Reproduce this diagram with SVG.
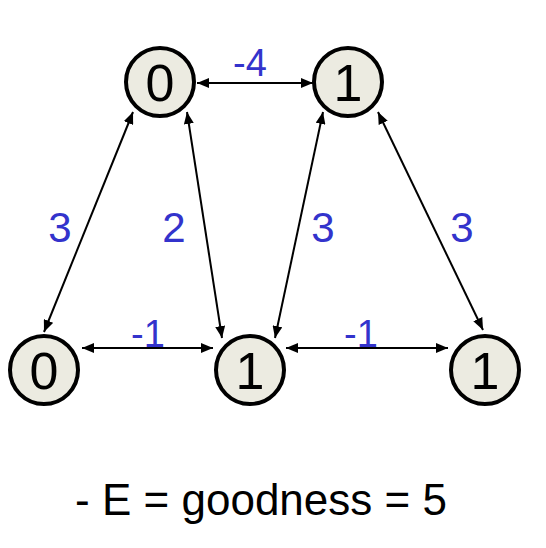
<svg xmlns="http://www.w3.org/2000/svg" width="546" height="548" viewBox="0 0 546 548">
<defs>
<marker id="ah" viewBox="0 0 12 10" refX="12" refY="5" markerWidth="12" markerHeight="10" markerUnits="userSpaceOnUse" orient="auto-start-reverse">
<path d="M0,0 L12,5 L0,10 Z" fill="#000"/>
</marker>
</defs>
<style>
.node circle{fill:#ECEBE1;stroke:#000;stroke-width:4}
.node text{font-family:"Liberation Sans",Arial,sans-serif;font-size:52px;fill:#000;text-anchor:middle}
.edge line{stroke:#000;stroke-width:2;marker-start:url(#ah);marker-end:url(#ah)}
.lbl{font-family:"Liberation Sans",Arial,sans-serif;fill:#3333CC;text-anchor:middle}
</style>
<rect width="546" height="548" fill="#fff"/>
<g id="connectors" class="edge">
<line x1="197" y1="83" x2="313" y2="83"/>
<line x1="82" y1="348" x2="213" y2="348"/>
<line x1="286" y1="348" x2="448" y2="348"/>
<line x1="133" y1="112" x2="44" y2="332"/>
<line x1="187" y1="112" x2="222" y2="338"/>
<line x1="323" y1="112" x2="275" y2="338"/>
<line x1="378" y1="112" x2="483" y2="330"/>
</g>
<g id="edge-labels">
<text class="lbl" x="250" y="76" font-size="38">-4</text>
<text class="lbl" x="148" y="347" font-size="38">-1</text>
<text class="lbl" x="361" y="347" font-size="38">-1</text>
<text class="lbl" x="60" y="242" font-size="42">3</text>
<text class="lbl" x="174" y="242" font-size="42">2</text>
<text class="lbl" x="323" y="242" font-size="42">3</text>
<text class="lbl" x="462" y="242" font-size="42">3</text>
</g>
<g id="n1" class="node"><circle cx="160" cy="82" r="34"/><text x="160" y="101">0</text></g>
<g id="n2" class="node"><circle cx="348" cy="82" r="34"/><text x="348" y="101">1</text></g>
<g id="n3" class="node"><circle cx="44" cy="370" r="34"/><text x="44" y="389">0</text></g>
<g id="n4" class="node"><circle cx="250" cy="370" r="34"/><text x="250" y="389">1</text></g>
<g id="n5" class="node"><circle cx="485" cy="370" r="34"/><text x="485" y="389">1</text></g>
<text x="261" y="515" font-family="Liberation Sans,Arial,sans-serif" font-size="44" text-anchor="middle" fill="#000">- E = goodness = 5</text>
</svg>
